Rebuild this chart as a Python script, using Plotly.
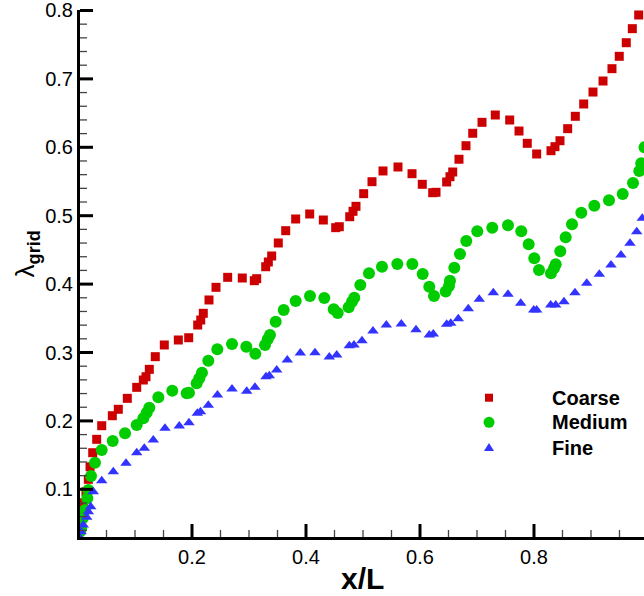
import numpy as np
import plotly.graph_objects as go

# Grid-refinement study: lambda_grid along the body (x/L) for three meshes
coarse_x = [0.001, 0.0023, 0.0044, 0.007, 0.0093, 0.014, 0.0181, 0.0211, 0.0258, 0.0328, 0.0416,
            0.0602, 0.0707, 0.0865, 0.1030, 0.1146, 0.1193, 0.1251, 0.1356, 0.1514, 0.1760, 0.1942,
            0.2100, 0.2153, 0.2198, 0.2298, 0.2421, 0.2626, 0.2882, 0.3093, 0.3135, 0.3293, 0.3339,
            0.3398, 0.3514, 0.3644, 0.3819, 0.4065, 0.4304, 0.4521, 0.4584, 0.4767, 0.4825, 0.4877,
            0.5012, 0.5158, 0.5351, 0.5614, 0.5860, 0.6040, 0.6223, 0.6281, 0.6468, 0.6526, 0.6574,
            0.6684, 0.6807, 0.6925, 0.7088, 0.7321, 0.7574, 0.7737, 0.7882, 0.8047, 0.8298, 0.8368,
            0.8456, 0.8591, 0.8725, 0.8872, 0.9035, 0.9211, 0.9368, 0.9496, 0.9619, 0.9725, 0.9837]
coarse_y = [0.0376, 0.0522, 0.0639, 0.0756, 0.0804, 0.0965, 0.1146, 0.1330, 0.1535, 0.1731, 0.1930,
            0.2076, 0.2170, 0.2330, 0.2491, 0.2598, 0.2646, 0.2754, 0.2939, 0.3110, 0.3183, 0.3216,
            0.3402, 0.3475, 0.3573, 0.3768, 0.3953, 0.4099, 0.4089, 0.4050, 0.4079, 0.4254, 0.4323,
            0.4411, 0.4601, 0.4781, 0.4952, 0.5025, 0.4937, 0.4825, 0.4839, 0.4985, 0.5064, 0.5137,
            0.5322, 0.5497, 0.5654, 0.5712, 0.5614, 0.5459, 0.5336, 0.5342, 0.5493, 0.5570, 0.5639,
            0.5825, 0.6023, 0.6205, 0.6365, 0.6472, 0.6399, 0.6238, 0.6058, 0.5902, 0.5950, 0.6009,
            0.6096, 0.6272, 0.6453, 0.6633, 0.6808, 0.6969, 0.7149, 0.7330, 0.7529, 0.7734, 0.7934]

medium_x = [0.0035, 0.0053, 0.0082, 0.0123, 0.0163, 0.0181, 0.0228, 0.0298, 0.0416, 0.0609, 0.0825,
            0.1030, 0.1146, 0.1205, 0.1251, 0.1409, 0.1654, 0.1907, 0.1947, 0.2082, 0.2128, 0.2175,
            0.2286, 0.2444, 0.2702, 0.2953, 0.3111, 0.3281, 0.3328, 0.3368, 0.3468, 0.3609, 0.3819,
            0.4070, 0.4321, 0.4486, 0.4556, 0.4749, 0.4807, 0.4847, 0.4953, 0.5105, 0.5333, 0.5602,
            0.5865, 0.6047, 0.6163, 0.6246, 0.6451, 0.6509, 0.6526, 0.6602, 0.6702, 0.6812, 0.7005,
            0.7268, 0.7544, 0.7777, 0.7907, 0.8005, 0.8088, 0.8298, 0.8351, 0.8381, 0.8461, 0.8556,
            0.8667, 0.8830, 0.9058, 0.9316, 0.9556, 0.9737, 0.9847, 0.9882, 0.9940]
medium_y = [0.0380, 0.0430, 0.0576, 0.0697, 0.0868, 0.0990, 0.1194, 0.1389, 0.1575, 0.1706, 0.1819,
            0.1940, 0.2038, 0.2120, 0.2193, 0.2345, 0.2442, 0.2404, 0.2412, 0.2550, 0.2623, 0.2705,
            0.2880, 0.3047, 0.3124, 0.3085, 0.2982, 0.3110, 0.3193, 0.3256, 0.3450, 0.3621, 0.3753,
            0.3826, 0.3797, 0.3632, 0.3577, 0.3661, 0.3743, 0.3801, 0.3987, 0.4158, 0.4254, 0.4294,
            0.4294, 0.4148, 0.3962, 0.3826, 0.3892, 0.3972, 0.4050, 0.4240, 0.4440, 0.4630, 0.4772,
            0.4825, 0.4860, 0.4772, 0.4582, 0.4377, 0.4206, 0.4158, 0.4231, 0.4289, 0.4480, 0.4684,
            0.4874, 0.5044, 0.5146, 0.5225, 0.5317, 0.5478, 0.5654, 0.5766, 0.6000]

fine_x = [0.0023, 0.0053, 0.0093, 0.0153, 0.0181, 0.0223, 0.0268, 0.0416, 0.0619, 0.0842, 0.1030,
          0.1163, 0.1321, 0.1526, 0.1777, 0.1947, 0.2093, 0.2149, 0.2286, 0.2447, 0.2702, 0.2960,
          0.3105, 0.3298, 0.3356, 0.3486, 0.3672, 0.3900, 0.4158, 0.4409, 0.4539, 0.4760, 0.4842,
          0.4982, 0.5175, 0.5409, 0.5672, 0.5930, 0.6163, 0.6233, 0.6468, 0.6539, 0.6672, 0.6847,
          0.7040, 0.7286, 0.7544, 0.7767, 0.7995, 0.8047, 0.8293, 0.8381, 0.8526, 0.8719, 0.8925,
          0.9146, 0.9351, 0.9526, 0.9684, 0.9802, 0.9900]
fine_y = [0.0298, 0.0380, 0.0478, 0.0591, 0.0673, 0.0746, 0.0965, 0.1126, 0.1257, 0.1380, 0.1535,
          0.1599, 0.1721, 0.1892, 0.1925, 0.1974, 0.2111, 0.2135, 0.2228, 0.2379, 0.2466, 0.2433,
          0.2491, 0.2646, 0.2661, 0.2744, 0.2890, 0.2993, 0.2997, 0.2934, 0.2963, 0.3099, 0.3110,
          0.3173, 0.3314, 0.3402, 0.3417, 0.3333, 0.3256, 0.3270, 0.3412, 0.3427, 0.3494, 0.3640,
          0.3778, 0.3874, 0.3851, 0.3719, 0.3621, 0.3621, 0.3694, 0.3694, 0.3743, 0.3874, 0.4012,
          0.4143, 0.4279, 0.4425, 0.4596, 0.4766, 0.4962]

# Axis ticks: labelled majors and unlabelled minor subdivisions
x_major = [0.2, 0.4, 0.6, 0.8]
y_major = [0.1, 0.2, 0.3, 0.4, 0.5, 0.6, 0.7, 0.8]
x_minor_step = 0.05
y_minor_step = 0.02

series_names = ["Coarse", "Medium", "Fine"]
series_colors = ["#CC0000", "#00CC00", "#3333FF"]

X_RANGE = [0.0035, 0.993]
Y_RANGE = [0.0303, 0.8007]
FONT = "Liberation Sans, Arial, Helvetica, sans-serif"

fig = go.Figure()
for name, xs, ys, sym, size, col in [
    ("Coarse", coarse_x, coarse_y, "square", 9, series_colors[0]),
    ("Medium", medium_x, medium_y, "circle", 12, series_colors[1]),
    ("Fine", fine_x, fine_y, "triangle-up", 10, series_colors[2]),
]:
    fig.add_trace(go.Scatter(x=xs, y=ys, mode="markers", name=name, showlegend=False,
                             marker=dict(symbol=sym, size=size, color=col)))

axis_common = dict(
    showgrid=False, zeroline=False, showline=True, linecolor="black", linewidth=3,
    ticks="", tickfont=dict(family=FONT, size=20, color="black"),
    tickformat=".1f", tickmode="array", ticklabeloverflow="allow",
    mirror=False, automargin=False,
)
fig.update_xaxes(range=X_RANGE, tickvals=x_major, **axis_common)
fig.update_yaxes(range=Y_RANGE, tickvals=y_major, **axis_common)


def minor_positions(lo, hi, step, majors):
    vals = np.round(np.arange(0, hi + 1e-9, step), 4)
    return [v for v in vals if lo < v < hi and not any(abs(v - m) < 1e-6 for m in majors)]


def to_paper(v, rng):
    return (v - rng[0]) / (rng[1] - rng[0])


# Inward-pointing tick marks along the bottom and left axes (lengths in pixels)
shapes = []
x_ticks = ([(v, 13, 3, "black") for v in x_major] +
           [(v, 7, 1.3, "#444") for v in minor_positions(*X_RANGE, x_minor_step, x_major)])
for v, ln, w, c in x_ticks:
    px = to_paper(v, X_RANGE)
    shapes.append(dict(type="line", xref="paper", yref="paper", ysizemode="pixel", yanchor=0,
                       x0=px, x1=px, y0=0, y1=ln, line=dict(color=c, width=w), layer="above"))
y_ticks = ([(v, 13, 3, "black") for v in y_major] +
           [(v, 7, 1.3, "#444") for v in minor_positions(*Y_RANGE, y_minor_step, y_major)])
for v, ln, w, c in y_ticks:
    py = to_paper(v, Y_RANGE)
    shapes.append(dict(type="line", xref="paper", yref="paper", xsizemode="pixel", xanchor=0,
                       x0=0, x1=ln, y0=py, y1=py, line=dict(color=c, width=w), layer="above"))

# Legend keys (square, circle, triangle) and labels, stacked at the lower right
legend_x_key, legend_x_text = 0.7252, 0.8333
legend_rows = [0.2643, 0.2177, 0.1698]
key_paths = [
    "M -4 -4 L 4 -4 L 4 4 L -4 4 Z",
    None,
    "M -5 -3.5 L 5 -3.5 L 0 4.5 Z",
]
for name, col, row, path in zip(series_names, series_colors, legend_rows, key_paths):
    common = dict(xref="paper", yref="paper", xsizemode="pixel", ysizemode="pixel",
                  xanchor=legend_x_key, yanchor=row, fillcolor=col, line=dict(width=0))
    if path is None:
        shapes.append(dict(type="circle", x0=-5.5, x1=5.5, y0=-5.5, y1=5.5, **common))
    else:
        shapes.append(dict(type="path", path=path, **common))
    fig.add_annotation(text=f"<b>{name}</b>", xref="paper", yref="paper",
                       x=legend_x_text, y=row, xanchor="left", yanchor="middle",
                       showarrow=False, font=dict(family=FONT, size=20, color="black"))

fig.update_layout(shapes=shapes)

fig.add_annotation(text="<b>x/L</b>", xref="paper", yref="paper", x=0.5, y=-0.078,
                   xanchor="center", yanchor="middle", showarrow=False,
                   font=dict(family=FONT, size=30, color="black"))
fig.add_annotation(text="λ<sub><b>grid</b></sub>", xref="paper", yref="paper",
                   x=-0.095, y=0.537, xanchor="center", yanchor="middle", textangle=-90,
                   showarrow=False, font=dict(family=FONT, size=26, color="black"))

fig.update_layout(
    width=644, height=596,
    margin=dict(l=80, r=0, t=10, b=59),
    plot_bgcolor="white", paper_bgcolor="white",
    showlegend=False,
)

fig.write_html("out.html")
